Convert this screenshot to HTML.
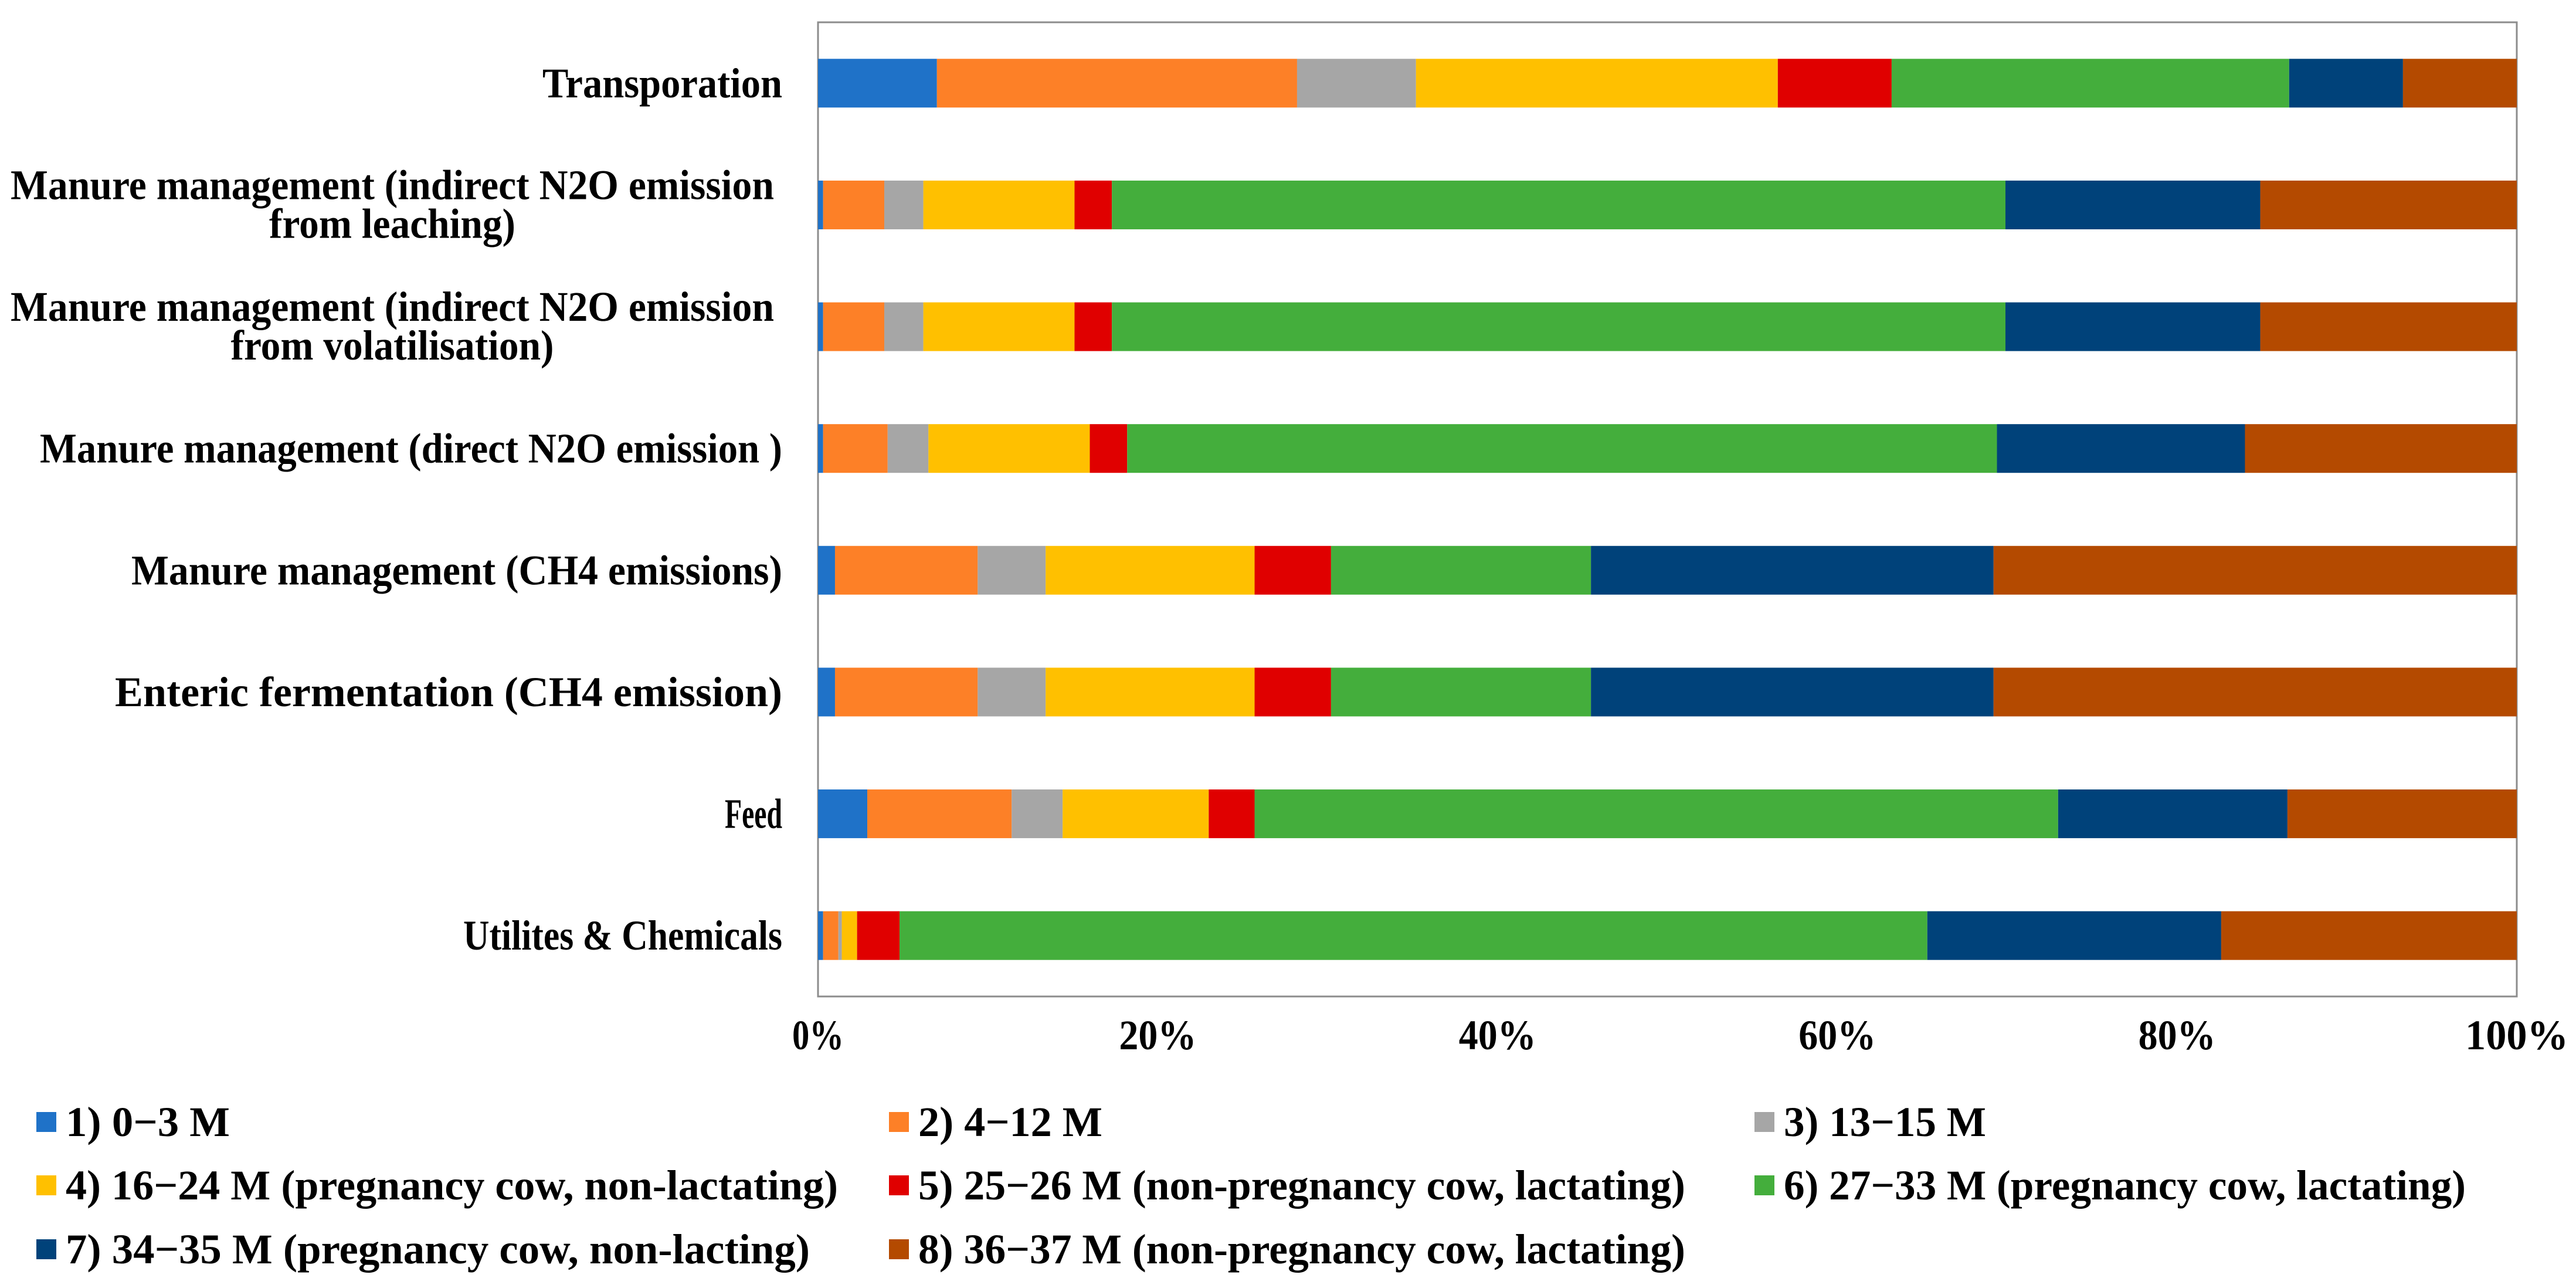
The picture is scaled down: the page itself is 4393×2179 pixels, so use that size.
<!DOCTYPE html>
<html><head><meta charset="utf-8"><style>
html,body{margin:0;padding:0;background:#fff;}
svg{display:block;}
text{font-family:"Liberation Serif",serif;font-weight:bold;fill:#000;}
</style></head><body>
<svg id="chart" width="4393" height="2179" viewBox="0 0 4393 2179" xmlns="http://www.w3.org/2000/svg"></svg>
<script>
const categories = ["Transporation","Manure management (indirect N2O emission|from leaching)","Manure management (indirect N2O emission|from volatilisation)","Manure management (direct N2O emission )","Manure management (CH4 emissions)","Enteric fermentation (CH4 emission)","Feed","Utilites & Chemicals"];
const s1 = [7.0,0.3,0.3,0.3,1.0,1.0,2.9,0.3];
const s2 = [21.2,3.6,3.6,3.8,8.4,8.4,8.5,0.9];
const s3 = [7.0,2.3,2.3,2.4,4.0,4.0,3.0,0.2];
const s4 = [21.3,8.9,8.9,9.5,12.3,12.3,8.6,0.9];
const s5 = [6.7,2.2,2.2,2.2,4.5,4.5,2.7,2.5];
const s6 = [23.4,52.6,52.6,51.2,15.3,15.3,47.3,60.5];
const s7 = [6.7,15.0,15.0,14.6,23.7,23.7,13.5,17.3];
const s8 = [6.7,15.1,15.1,16.0,30.8,30.8,13.5,17.4];
const seriesNames = ["1) 0\u22123 M","2) 4\u221212 M","3) 13\u221215 M","4) 16\u221224 M (pregnancy cow, non-lactating)","5) 25\u221226 M (non-pregnancy cow, lactating)","6) 27\u221233 M (pregnancy cow, lactating)","7) 34\u221235 M (pregnancy cow,  non-lacting)","8) 36\u221237 M (non-pregnancy cow, lactating)"];
const tickValues = [0,20,40,60,80,100];
const tickLabels = ["0%","20%","40%","60%","80%","100%"];

const colors = ["#1f72c8","#fd8027","#a6a6a6","#ffc000","#e00000","#44ae3c","#00427a","#b44a00"];
const series = [s1,s2,s3,s4,s5,s6,s7,s8];
const labelW = {"Transporation":409,"Manure management (indirect N2O emission":1302,"from leaching)":420,"from volatilisation)":551,"Manure management (direct N2O emission )":1266,"Manure management (CH4 emissions)":1110,"Enteric fermentation (CH4 emission)":1138,"Feed":98,"Utilites & Chemicals":544};
const legendW = [280,314,345,1317,1308,1163,1269,1308];
const svg = document.getElementById('chart');
const NS = "http://www.w3.org/2000/svg";
const L=1395,R=4292,T=38,B=1699;
const band=(B-T)/categories.length, barH=band*0.4;
function x(v){return L+(R-L)*v/100;}
function yc(i){return T+band*i+band/2;}
function mk(tag,attrs){const e=document.createElementNS(NS,tag);for(const k in attrs)e.setAttribute(k,attrs[k]);svg.appendChild(e);return e;}

const frame=mk('rect',{x:L,y:T,width:R-L,height:B-T,fill:'none',stroke:'#8c8c8c','stroke-width':3});



categories.forEach((c,i)=>{
  const tot=series.reduce((a,s)=>a+s[i],0);
  let acc=0;
  series.forEach((s,j)=>{
    const v=s[i]*100/tot;
    const r=mk('rect',{x:x(acc),y:yc(i)-barH/2,width:x(acc+v)-x(acc),height:barH,fill:colors[j]});
    
    
    acc+=v;
  });
  const lines=c.split('|');
  if(lines.length===1){
    const t=mk('text',{x:1334,y:yc(i)+24,'text-anchor':'end','font-size':72,textLength:labelW[c]||400,lengthAdjust:'spacingAndGlyphs'});
    t.textContent=c;
    
    
  } else {
    lines.forEach((ln,k)=>{
      const t=mk('text',{x:669,y:yc(i)-10+k*66,'text-anchor':'middle','font-size':72,textLength:labelW[ln]||400,lengthAdjust:'spacingAndGlyphs'});
      t.textContent=ln;
      
      
    });
  }
});

tickValues.forEach((v,i)=>{
  const t=mk('text',{x:x(v),y:1789,'text-anchor':'middle','font-size':72,textLength:tickLabels[i].length*44,lengthAdjust:'spacingAndGlyphs'});
  t.textContent=tickLabels[i];
  
  
});

const lx=[62,1516,2992], ly=[1913,2021,2130];
seriesNames.forEach((n,j)=>{
  const col=j%3,row=Math.floor(j/3);
  const m=mk('rect',{x:lx[col],y:ly[row]-17,width:34,height:34,fill:colors[j]});
  
  
  const t=mk('text',{x:lx[col]+50,y:ly[row]+24,'font-size':72,textLength:legendW[j],lengthAdjust:'spacingAndGlyphs'});
  t.textContent=n;
  
  
});
</script>
</body></html>
